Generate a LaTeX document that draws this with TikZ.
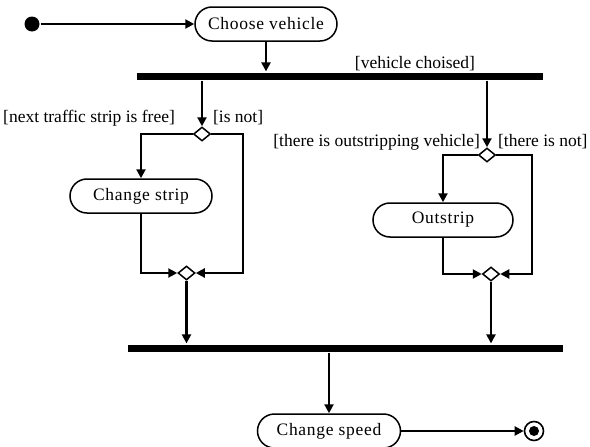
\documentclass[tikz,border=0pt]{standalone}
\usepackage{fontspec}
\setmainfont{Liberation Serif}
\newfontfamily\actfont[LetterSpace=4]{Liberation Serif}
\usetikzlibrary{arrows.meta,shapes.geometric}
\begin{document}
\begin{tikzpicture}[x=1pt,y=-1pt,
  line width=2.2pt,
  arr/.style={-{Triangle[length=9pt,width=9pt]}},
  action/.style={draw, line width=1.5pt, rounded corners=17pt, minimum height=34pt, font=\actfont\fontsize{17.5}{20}\selectfont, inner sep=0pt},
  syncbar/.style={fill=black, inner sep=0pt, minimum height=7pt},
  decision/.style={draw, line width=1.5pt, fill=white, diamond, inner sep=0pt, minimum width=17pt, minimum height=14pt},
  guard/.style={font=\fontsize{17.5}{20}\selectfont, inner sep=0pt}]
\useasboundingbox (0,0) rectangle (590,447);

% activities
\node[action, minimum width=142pt] (choose) at (266,24) {Choose vehicle};
\node[action, minimum width=142pt] (strip) at (141,196) {Change strip};
\node[action, minimum width=140pt] (outs) at (443,220) {Outstrip};
\node[action, minimum width=143pt] (speed) at (329,431) {Change speed};

% initial and final states
\node[circle, fill=black, inner sep=0pt, minimum size=15pt] (init) at (32,24) {};
\node[circle, draw, line width=1.6pt, inner sep=0pt, minimum size=19pt] (final) at (534,431) {};
\fill (final) circle (5pt);

% fork / join bars
\node[syncbar, minimum width=406pt] (bar1) at (340,76) {};
\node[syncbar, minimum width=435pt] (bar2) at (345.5,348) {};

% decisions and merges
\node[decision] (d1) at (202,134) {};
\node[decision] (m1) at (186.5,273) {};
\node[decision] (d2) at (487,155) {};
\node[decision] (m2) at (491,274) {};
\coordinate (k1) at (243,134);
\coordinate (k2) at (532,155);

% guards
\node[guard] at (415,64) {[vehicle choised]};
\node[guard, anchor=east] at (176,118) {[next traffic strip is free]};
\node[guard, anchor=west] at (212,118) {[is not]};
\node[guard, anchor=east] at (481,142) {[there is outstripping vehicle]};
\node[guard, anchor=west] at (497,142) {[there is not]};

% flows
\draw[arr] (init) -- (choose.west);
\draw[arr] (choose.south) -- (choose |- bar1.north);
\draw[arr] (d1 |- bar1.south) -- (d1.north);
\draw[arr] (d1.west) -| (strip.north);
\draw[arr] (d1.east) -- (k1) |- (m1.east);
\draw[arr] (strip.south) |- (m1.west);
\draw[arr] (m1.south) -- (m1 |- bar2.north);
\draw[arr] (d2 |- bar1.south) -- (d2.north);
\draw[arr] (d2.west) -| (outs.north);
\draw[arr] (d2.east) -- (k2) |- (m2.east);
\draw[arr] (outs.south) |- (m2.west);
\draw[arr] (m2.south) -- (m2 |- bar2.north);
\draw[arr] (speed |- bar2.south) -- (speed.north);
\draw[arr] (speed.east) -- (final.west);
\end{tikzpicture}
\end{document}
